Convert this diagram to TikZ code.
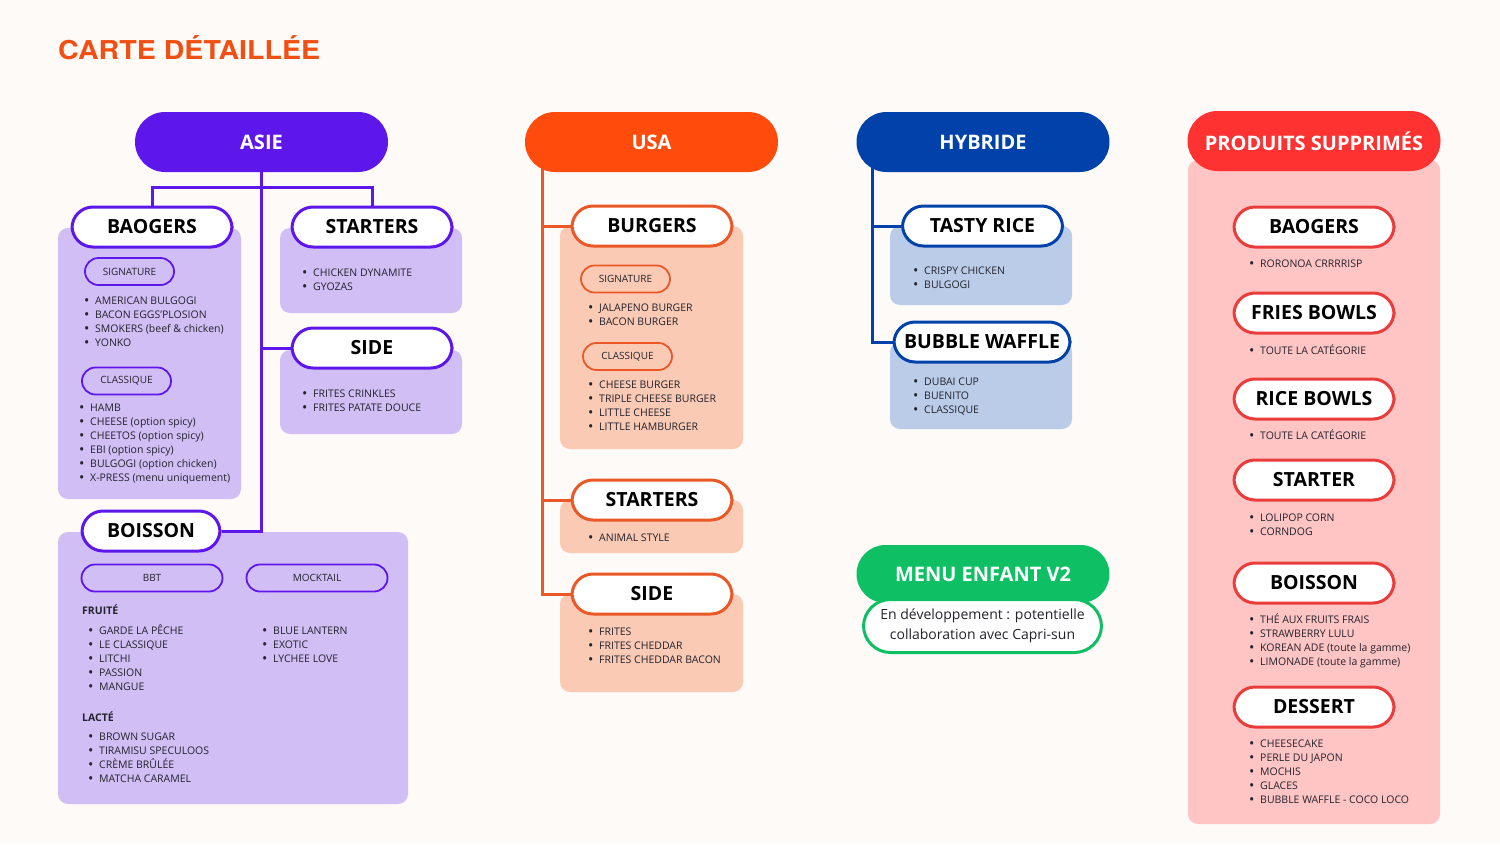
\documentclass[tikz,border=0pt]{standalone}
\usepackage{fontspec}
\setmainfont{Open Sans}
\newfontfamily\titrefont{TeX Gyre Heros}
\usetikzlibrary{positioning, calc}

\definecolor{fondpage}{RGB}{253,250,248}
\definecolor{titre}{RGB}{240,80,20}
\definecolor{encre}{RGB}{35,35,45}
\definecolor{asie}{RGB}{94,23,235}
\definecolor{asiefond}{RGB}{209,190,245}
\definecolor{usa}{RGB}{255,75,12}
\definecolor{usatrait}{RGB}{234,88,40}
\definecolor{usafond}{RGB}{250,202,180}
\definecolor{hyb}{RGB}{0,66,170}
\definecolor{hybfond}{RGB}{187,204,232}
\definecolor{vert}{RGB}{14,191,99}
\definecolor{rouge}{RGB}{255,50,50}
\definecolor{rougetrait}{RGB}{235,60,60}
\definecolor{rose}{RGB}{255,196,196}

\pgfdeclarelayer{fond}
\pgfdeclarelayer{liens}
\pgfsetlayers{fond,liens,main}

% une ligne de liste avec sa puce
\newcommand{\itm}[1]{\rule{0pt}{10.5pt}\makebox[11pt][l]{\raisebox{-0.6pt}{\scalebox{1.35}{\textbullet}}}#1}

\tikzset{
  tete/.style={rounded corners=30pt, minimum width=253pt, minimum height=60pt, inner sep=0pt,
    text=white, font=\fontsize{20}{24}\selectfont\bfseries},
  rubrique/.style={draw, line width=3pt, fill=white, rounded corners=21pt, minimum width=160pt,
    minimum height=40pt, inner sep=0pt, text=black, font=\fontsize{19.5}{22}\selectfont\bfseries},
  souscat/.style={draw, line width=1.8pt, rounded corners=13.5pt, minimum width=89pt,
    minimum height=27pt, inner sep=0pt, text=encre, font=\fontsize{10}{12}\selectfont},
  bloc/.style={rounded corners=10pt},
  liste/.style={anchor=north west, inner sep=0pt, align=left, text=encre,
    font=\fontsize{10.5}{14}\selectfont},
  etiquette/.style={anchor=north west, inner sep=0pt, text=encre,
    font=\fontsize{10.5}{14}\selectfont\bfseries},
  lien/.style={line width=3pt},
}

\begin{document}
\begin{tikzpicture}[x=1pt, y=-1pt]

\useasboundingbox (0,0) rectangle (1500,844);
\begin{pgfonlayer}{fond}
  \fill[fondpage] (0,0) rectangle (1500,844);
  % blocs de couleur
  \fill[asiefond, bloc] (58,228) rectangle (241,499);
  \fill[asiefond, bloc] (280,228) rectangle (462,313);
  \fill[asiefond, bloc] (280,350) rectangle (462,434);
  \fill[asiefond, bloc] (58,532) rectangle (408,804);
  \fill[usafond, bloc] (560,226) rectangle (743,449);
  \fill[usafond, bloc] (560,500) rectangle (743,553);
  \fill[usafond, bloc] (560,594) rectangle (743,692);
  \fill[hybfond, bloc] (890,226) rectangle (1072,305);
  \fill[hybfond, bloc] (890,342) rectangle (1072,429);
  \fill[rose, bloc] (1188,160) rectangle (1440,824);
\end{pgfonlayer}

\node[anchor=west, inner sep=0pt, text=titre, font=\titrefont\fontsize{26}{30}\selectfont\bfseries]
  (titre) at (58,48) {\scalebox{1.1}[1]{CARTE DÉTAILLÉE}};

% ASIE
\node[tete, fill=asie] (asie) at (261.5,142) {ASIE};
\node[rubrique, draw=asie] (baogers) at (152,227) {BAOGERS};
\node[rubrique, draw=asie] (starters) at (372,227) {STARTERS};
\node[rubrique, draw=asie] (side) at (372,348) {SIDE};
\node[rubrique, draw=asie, minimum width=138pt] (boisson) at (151,531) {BOISSON};
\node[souscat, draw=asie] (signature) at (129.5,271.5) {SIGNATURE};
\node[souscat, draw=asie] (classique) at (126.5,381) {CLASSIQUE};
\node[souscat, draw=asie, minimum width=141pt] (bbt) at (152,578) {BBT};
\node[souscat, draw=asie, minimum width=141pt] (mocktail) at (317,578) {MOCKTAIL};

\node[liste] (sigliste) at (84,294.25) {\itm{AMERICAN BULGOGI}\\\itm{BACON EGGS’PLOSION}\\
  \itm{SMOKERS (beef \& chicken)}\\\itm{YONKO}};
\node[liste] (classliste) at (79,401.25) {\itm{HAMB}\\\itm{CHEESE (option spicy)}\\
  \itm{CHEETOS (option spicy)}\\\itm{EBI (option spicy)}\\\itm{BULGOGI (option chicken)}\\
  \itm{X-PRESS (menu uniquement)}};
\node[liste] (startliste) at (302,266.25) {\itm{CHICKEN DYNAMITE}\\\itm{GYOZAS}};
\node[liste] (sideliste) at (302,387.25) {\itm{FRITES CRINKLES}\\\itm{FRITES PATATE DOUCE}};
\node[etiquette] (fruite) at (82,604.25) {\rule{0pt}{10.5pt}FRUITÉ};
\node[liste] (fruiteliste) at (88,624.25) {\itm{GARDE LA PÊCHE}\\\itm{LE CLASSIQUE}\\
  \itm{LITCHI}\\\itm{PASSION}\\\itm{MANGUE}};
\node[liste] (mockliste) at (262,624.25) {\itm{BLUE LANTERN}\\\itm{EXOTIC}\\\itm{LYCHEE LOVE}};
\node[etiquette] (lacte) at (82,711.25) {\rule{0pt}{10.5pt}LACTÉ};
\node[liste] (lacteliste) at (88,730.25) {\itm{BROWN SUGAR}\\\itm{TIRAMISU SPECULOOS}\\
  \itm{CRÈME BRÛLÉE}\\\itm{MATCHA CARAMEL}};

% USA
\node[tete, fill=usa] (usa) at (651.5,142) {USA};
\node[rubrique, draw=usatrait] (burgers) at (652,226) {BURGERS};
\node[rubrique, draw=usatrait] (ustarters) at (652,500) {STARTERS};
\node[rubrique, draw=usatrait] (uside) at (652,594) {SIDE};
\node[souscat, draw=usatrait] (usig) at (625.5,279) {SIGNATURE};
\node[souscat, draw=usatrait] (uclass) at (627.5,356.5) {CLASSIQUE};

\node[liste] (usigliste) at (588,301.25) {\itm{JALAPENO BURGER}\\\itm{BACON BURGER}};
\node[liste] (uclassliste) at (588,378.25) {\itm{CHEESE BURGER}\\\itm{TRIPLE CHEESE BURGER}\\
  \itm{LITTLE CHEESE}\\\itm{LITTLE HAMBURGER}};
\node[liste] (ustartliste) at (588,531.25) {\itm{ANIMAL STYLE}};
\node[liste] (usideliste) at (588,625.25) {\itm{FRITES}\\\itm{FRITES CHEDDAR}\\
  \itm{FRITES CHEDDAR BACON}};

% HYBRIDE
\node[tete, fill=hyb] (hybride) at (983,142) {HYBRIDE};
\node[rubrique, draw=hyb] (tasty) at (982.5,226) {TASTY RICE};
\node[rubrique, draw=hyb, minimum width=176pt] (waffle) at (982,342) {BUBBLE WAFFLE};

\node[liste] (tastyliste) at (913,264.25) {\itm{CRISPY CHICKEN}\\\itm{BULGOGI}};
\node[liste] (waffleliste) at (913,375.25) {\itm{DUBAI CUP}\\\itm{BUENITO}\\\itm{CLASSIQUE}};

% MENU ENFANT
\node[tete, fill=vert, minimum height=58pt, rounded corners=29pt] (enfant) at (983,574) {MENU ENFANT V2};
\node[draw=vert, line width=3pt, fill=white, rounded corners=27pt, minimum width=238pt,
  minimum height=53pt, inner sep=0pt, align=center, text=encre, font=\fontsize{14}{20.5}\selectfont]
  (dev) at (982.5,626) {En développement : potentielle\\collaboration avec Capri-sun};

% PRODUITS SUPPRIMES
\node[tete, fill=rouge] (supp) at (1314,141) {PRODUITS SUPPRIMÉS};
\node[rubrique, draw=rougetrait] (sbaogers) at (1314,227) {BAOGERS};
\node[rubrique, draw=rougetrait] (sfries) at (1314,313) {FRIES BOWLS};
\node[rubrique, draw=rougetrait] (srice) at (1314,399) {RICE BOWLS};
\node[rubrique, draw=rougetrait] (sstarter) at (1314,480) {STARTER};
\node[rubrique, draw=rougetrait] (sboisson) at (1314,583) {BOISSON};
\node[rubrique, draw=rougetrait] (sdessert) at (1314,707) {DESSERT};

\node[liste] (sbaoliste) at (1249,257.25) {\itm{RORONOA CRRRRISP}};
\node[liste] (sfriesliste) at (1249,344.25) {\itm{TOUTE LA CATÉGORIE}};
\node[liste] (sriceliste) at (1249,429.25) {\itm{TOUTE LA CATÉGORIE}};
\node[liste] (sstartliste) at (1249,511.25) {\itm{LOLIPOP CORN}\\\itm{CORNDOG}};
\node[liste] (sboisliste) at (1249,613.25) {\itm{THÉ AUX FRUITS FRAIS}\\\itm{STRAWBERRY LULU}\\
  \itm{KOREAN ADE (toute la gamme)}\\\itm{LIMONADE (toute la gamme)}};
\node[liste] (sdessliste) at (1249,737.25) {\itm{CHEESECAKE}\\\itm{PERLE DU JAPON}\\
  \itm{MOCHIS}\\\itm{GLACES}\\\itm{BUBBLE WAFFLE - COCO LOCO}};

% liaisons
\coordinate (asiefourche) at (261.5,187);
\coordinate (usapied) at (542,165);
\coordinate (hybpied) at (872,165);
\begin{pgfonlayer}{liens}
  \draw[lien, asie] (asie.south) |- (boisson.east);
  \draw[lien, asie] (baogers.north) |- (asiefourche) -| (starters.north);
  \draw[lien, asie] (asie.south |- side.west) -- (side.west);
  \draw[lien, usatrait] (usapied) |- (uside.west);
  \draw[lien, usatrait] (usapied |- burgers.west) -- (burgers.west);
  \draw[lien, usatrait] (usapied |- ustarters.west) -- (ustarters.west);
  \draw[lien, hyb] (hybpied) |- (waffle.west);
  \draw[lien, hyb] (hybpied |- tasty.west) -- (tasty.west);
\end{pgfonlayer}

\end{tikzpicture}
\end{document}
